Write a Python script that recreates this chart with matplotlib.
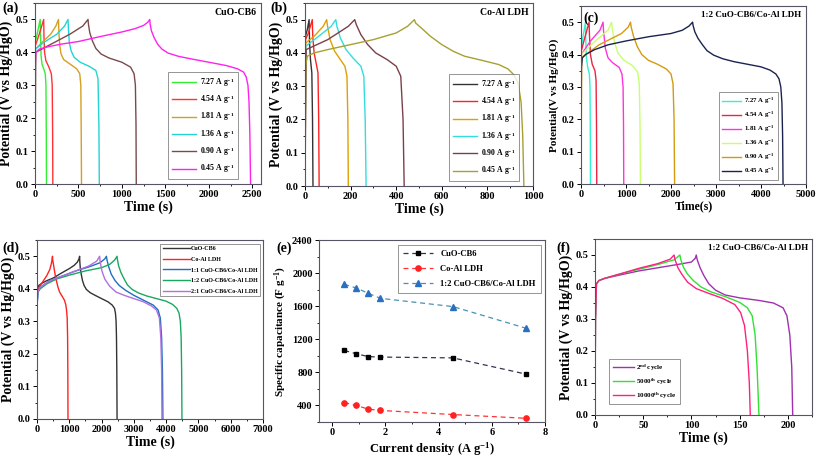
import matplotlib
import numpy as np

matplotlib.use("Agg")
import matplotlib.pyplot as plt
from matplotlib.ticker import AutoMinorLocator, MultipleLocator

plt.rcParams["font.family"] = ["Liberation Serif", "DejaVu Serif"]
plt.rcParams["font.weight"] = "bold"
plt.rcParams["mathtext.fontset"] = "custom"
plt.rcParams["mathtext.rm"] = "Liberation Serif:bold"
plt.rcParams["mathtext.it"] = "Liberation Serif:bold"
plt.rcParams["mathtext.bf"] = "Liberation Serif:bold"

# ---- (a) CuO-CB6 GCD curves: (time s, potential V)
a_727_t = [0, 2, 20, 40, 60, 63, 70, 80, 100, 118, 126, 130, 132]
a_727_v = [0, 0.43, 0.45, 0.475, 0.50, 0.45, 0.39, 0.365, 0.35, 0.335, 0.30, 0.15, 0]
a_454_t = [0, 3, 30, 60, 100, 103, 110, 125, 160, 188, 198, 203, 205]
a_454_v = [0, 0.42, 0.44, 0.465, 0.50, 0.45, 0.40, 0.375, 0.355, 0.335, 0.30, 0.15, 0]
a_181_t = [0, 5, 80, 180, 240, 270, 275, 285, 300, 330, 400, 480, 515, 527, 532, 535]
a_181_v = [0, 0.41, 0.43, 0.455, 0.48, 0.50, 0.46, 0.42, 0.395, 0.378, 0.365, 0.35,
           0.335, 0.30, 0.15, 0]
a_136_t = [0, 5, 100, 250, 340, 380, 385, 395, 415, 450, 520, 620, 700, 725, 735, 740]
a_136_v = [0, 0.41, 0.43, 0.455, 0.48, 0.50, 0.47, 0.43, 0.405, 0.385, 0.37, 0.358,
           0.345, 0.32, 0.18, 0]
a_090_t = [0, 8, 150, 400, 550, 610, 615, 630, 660, 700, 760, 850, 1000, 1100, 1140,
           1155, 1162, 1165]
a_090_v = [0, 0.40, 0.42, 0.455, 0.48, 0.50, 0.485, 0.46, 0.435, 0.412, 0.395, 0.383,
           0.37, 0.355, 0.335, 0.30, 0.18, 0]
a_045_t = [0, 3, 10, 50, 150, 300, 500, 750, 1000, 1150, 1250, 1300, 1320, 1325,
           1340, 1370, 1410, 1460, 1530, 1650, 1800, 2000, 2200, 2330, 2400, 2430,
           2450, 2462, 2472, 2480]
a_045_v = [0, 0.36, 0.40, 0.41, 0.417, 0.425, 0.433, 0.448, 0.462, 0.472, 0.482,
           0.492, 0.50, 0.485, 0.465, 0.445, 0.425, 0.41, 0.398, 0.388, 0.38, 0.37,
           0.36, 0.35, 0.34, 0.325, 0.30, 0.25, 0.15, 0]

# ---- (b) Co-Al LDH
b_727_t = [0, 2, 10, 18, 20, 24, 30, 33, 35]
b_727_v = [0, 0.45, 0.47, 0.50, 0.43, 0.38, 0.34, 0.2, 0]
b_454_t = [0, 2, 15, 32, 34, 40, 50, 57, 60, 62]
b_454_v = [0, 0.44, 0.46, 0.50, 0.45, 0.40, 0.365, 0.34, 0.2, 0]
b_181_t = [0, 3, 40, 80, 95, 99, 110, 130, 150, 175, 184, 188, 190]
b_181_v = [0, 0.43, 0.45, 0.48, 0.50, 0.48, 0.44, 0.405, 0.385, 0.36, 0.33, 0.2, 0]
b_136_t = [0, 3, 60, 115, 135, 140, 155, 180, 210, 245, 258, 264, 268]
b_136_v = [0, 0.42, 0.45, 0.48, 0.50, 0.48, 0.445, 0.41, 0.385, 0.36, 0.33, 0.2, 0]
b_090_t = [0, 5, 100, 190, 218, 225, 245, 275, 310, 360, 400, 420, 430, 435]
b_090_v = [0, 0.41, 0.44, 0.48, 0.50, 0.485, 0.455, 0.425, 0.40, 0.38, 0.36, 0.33,
           0.2, 0]
b_045_t = [0, 3, 10, 40, 100, 200, 300, 400, 450, 480, 485, 510, 550, 600, 650, 700,
           780, 850, 890, 915, 935, 948, 955, 960]
b_045_v = [0, 0.36, 0.39, 0.40, 0.41, 0.425, 0.44, 0.46, 0.48, 0.50, 0.49, 0.475,
           0.45, 0.425, 0.405, 0.39, 0.377, 0.365, 0.352, 0.335, 0.31, 0.25, 0.15, 0]

# ---- (c) 1:2 CuO-CB6/Co-Al LDH
c_727_t = [0, 5, 50, 100, 105, 120, 150, 185, 200, 207, 210]
c_727_v = [0, 0.42, 0.46, 0.50, 0.45, 0.39, 0.36, 0.34, 0.30, 0.15, 0]
c_454_t = [0, 5, 80, 180, 188, 210, 250, 310, 335, 345, 350]
c_454_v = [0, 0.41, 0.45, 0.50, 0.46, 0.40, 0.37, 0.35, 0.32, 0.18, 0]
c_181_t = [0, 10, 200, 420, 490, 500, 540, 600, 700, 850, 910, 935, 945, 950]
c_181_v = [0, 0.40, 0.44, 0.475, 0.50, 0.475, 0.42, 0.39, 0.375, 0.36, 0.34, 0.30,
           0.18, 0]
c_136_t = [0, 10, 300, 600, 680, 695, 740, 820, 950, 1150, 1260, 1295, 1312, 1320]
c_136_v = [0, 0.40, 0.44, 0.475, 0.50, 0.48, 0.44, 0.405, 0.383, 0.365, 0.345, 0.31,
           0.18, 0]
c_090_t = [0, 15, 400, 900, 1050, 1100, 1115, 1170, 1250, 1350, 1500, 1700, 1900,
           2000, 2045, 2068, 2080]
c_090_v = [0, 0.39, 0.43, 0.465, 0.485, 0.50, 0.485, 0.455, 0.425, 0.40, 0.382, 0.37,
           0.355, 0.34, 0.31, 0.2, 0]
c_045_t = [0, 8, 30, 100, 300, 600, 1000, 1500, 2000, 2250, 2400, 2480, 2490, 2530,
           2600, 2700, 2800, 2950, 3150, 3400, 3700, 4000, 4200, 4330, 4400, 4440,
           4465, 4480, 4490]
c_045_v = [0, 0.36, 0.39, 0.40, 0.415, 0.43, 0.442, 0.455, 0.465, 0.475, 0.488,
           0.50, 0.49, 0.47, 0.45, 0.43, 0.412, 0.398, 0.387, 0.378, 0.37, 0.362,
           0.352, 0.34, 0.325, 0.30, 0.25, 0.15, 0]

# ---- (d) comparison at 0.45 A/g (extra ratios)
d_11_t = [0, 8, 30, 100, 400, 800, 1200, 1600, 1950, 2100, 2150, 2165, 2220, 2300,
          2420, 2550, 2750, 3000, 3300, 3600, 3750, 3820, 3860, 3885, 3900]
d_11_v = [0, 0.36, 0.39, 0.405, 0.425, 0.44, 0.455, 0.467, 0.48, 0.492, 0.50, 0.49,
          0.468, 0.445, 0.425, 0.41, 0.395, 0.38, 0.365, 0.35, 0.335, 0.31, 0.25,
          0.15, 0]
d_21_t = [0, 8, 30, 100, 400, 800, 1200, 1600, 1850, 1940, 1955, 2010, 2100, 2250,
          2450, 2700, 3000, 3300, 3550, 3700, 3790, 3835, 3860, 3870]
d_21_v = [0, 0.36, 0.39, 0.405, 0.425, 0.44, 0.455, 0.47, 0.485, 0.50, 0.485, 0.455,
          0.43, 0.408, 0.39, 0.38, 0.37, 0.36, 0.347, 0.335, 0.31, 0.25, 0.15, 0]

# ---- (e) specific capacitance vs current density
current_density = [0.45, 0.90, 1.36, 1.81, 4.54, 7.27]
cap_cuo = [1065, 1025, 990, 985, 975, 780]
cap_coal = [435, 400, 355, 340, 290, 245]
cap_12 = [1865, 1820, 1755, 1695, 1595, 1335]

# ---- (f) cycling
f_2_t = [0, 0.5, 1.5, 4, 10, 25, 45, 65, 85, 100, 104, 105, 106, 109, 113, 118, 125,
         135, 150, 170, 185, 195, 199, 202, 204, 205]
f_2_v = [0, 0.30, 0.41, 0.42, 0.427, 0.437, 0.45, 0.46, 0.47, 0.478, 0.49, 0.50,
         0.485, 0.46, 0.435, 0.41, 0.39, 0.375, 0.366, 0.358, 0.35, 0.335, 0.31, 0.25,
         0.15, 0]
f_5000_t = [0, 0.5, 1.5, 4, 10, 25, 45, 65, 82, 88, 89, 92, 96, 102, 110, 120, 135,
            150, 158, 163, 166, 168, 170]
f_5000_v = [0, 0.30, 0.41, 0.42, 0.427, 0.44, 0.455, 0.47, 0.485, 0.50, 0.485, 0.46,
            0.44, 0.42, 0.40, 0.385, 0.37, 0.352, 0.335, 0.31, 0.25, 0.15, 0]
f_10000_t = [0, 0.5, 1.5, 4, 10, 25, 45, 65, 78, 82, 83, 86, 90, 96, 105, 118, 132,
             145, 151, 155, 158, 160, 161]
f_10000_v = [0, 0.30, 0.41, 0.42, 0.427, 0.44, 0.458, 0.473, 0.487, 0.50, 0.485,
             0.46, 0.44, 0.415, 0.395, 0.38, 0.365, 0.345, 0.32, 0.28, 0.2, 0.1, 0]

rate_labels = ["7.27 A g$^{-1}$", "4.54 A g$^{-1}$", "1.81 A g$^{-1}$",
               "1.36 A g$^{-1}$", "0.90 A g$^{-1}$", "0.45 A g$^{-1}$"]

W, H = 817, 457
fig = plt.figure(figsize=(W / 100, H / 100), dpi=100)


def px_axes(x0, y0, x1, y1):
    return fig.add_axes([x0 / W, 1 - y1 / H, (x1 - x0) / W, (y1 - y0) / H])


def style(ax, xlim, xstep, ylim=(0, 0.55), ystep=0.1):
    ax.set_xlim(*xlim)
    ax.set_ylim(*ylim)
    ax.xaxis.set_major_locator(MultipleLocator(xstep))
    ax.yaxis.set_major_locator(MultipleLocator(ystep))
    ax.xaxis.set_minor_locator(AutoMinorLocator(2))
    ax.yaxis.set_minor_locator(AutoMinorLocator(2))
    ax.tick_params(which="major", direction="out", length=3, width=0.7, labelsize=7.5, pad=1.5)
    ax.tick_params(which="minor", direction="out", length=1.5, width=0.6)
    for s in ax.spines.values():
        s.set_color("#555566")
        s.set_linewidth(0.8)
    for lab in ax.get_xticklabels() + ax.get_yticklabels():
        lab.set_fontweight("bold")


def legend(ax, fs=5.6, hl=3.2, **kw):
    leg = ax.legend(fontsize=fs, frameon=True, fancybox=False, handlelength=hl,
                    handletextpad=0.4, labelspacing=0.55, borderpad=0.5, **kw)
    leg.get_frame().set_edgecolor("#666666")
    leg.get_frame().set_linewidth(0.6)
    return leg


lw = 1.0
LAB = dict(fontsize=10, fontweight="bold")

# (a)
ax = px_axes(35, 3, 261, 184)
for t, v, c, l in zip([a_727_t, a_454_t, a_181_t, a_136_t, a_090_t, a_045_t],
                      [a_727_v, a_454_v, a_181_v, a_136_v, a_090_v, a_045_v],
                      ["#33ee33", "#ff3333", "#d4a020", "#22d4d4", "#7a4a4a", "#ff22ee"],
                      rate_labels):
    ax.plot(t, v, color=c, lw=lw, label=l)
style(ax, (0, 2600), 500)
ax.set_xlabel("Time (s)", labelpad=1, **LAB)
ax.set_ylabel("Potential (V vs Hg/HgO)", labelpad=2, **LAB)
ax.text(0.98, 0.97, "CuO-CB6", transform=ax.transAxes, ha="right", va="top", fontsize=7)
legend(ax, loc="lower right", bbox_to_anchor=(0.915, 0.005))

# (b)
ax = px_axes(305, 3, 533, 186)
for t, v, c, l in zip([b_727_t, b_454_t, b_181_t, b_136_t, b_090_t, b_045_t],
                      [b_727_v, b_454_v, b_181_v, b_136_v, b_090_v, b_045_v],
                      ["#333333", "#ff2222", "#e0a000", "#33dddd", "#7a4048", "#a8a030"],
                      rate_labels):
    ax.plot(t, v, color=c, lw=lw, label=l)
style(ax, (0, 1000), 200)
ax.set_xlabel("Time (s)", labelpad=1, **LAB)
ax.set_ylabel("Potential (V vs Hg/HgO)", labelpad=2, **LAB)
ax.text(0.98, 0.97, "Co-Al LDH", transform=ax.transAxes, ha="right", va="top", fontsize=7)
legend(ax, loc="lower right", bbox_to_anchor=(0.955, 0.005))

# (c)
ax = px_axes(581, 6, 806, 184)
for t, v, c, l in zip([c_727_t, c_454_t, c_181_t, c_136_t, c_090_t, c_045_t],
                      [c_727_v, c_454_v, c_181_v, c_136_v, c_090_v, c_045_v],
                      ["#33f0d0", "#ee2244", "#ff33dd", "#c8ff70", "#d49a10", "#1a2350"],
                      rate_labels):
    ax.plot(t, v, color=c, lw=lw, label=l)
style(ax, (0, 5000), 1000)
ax.set_xlabel("Time(s)", fontsize=8.5, fontweight="bold", labelpad=1)
ax.set_ylabel("Potential(V vs Hg/HgO)", fontsize=8, fontweight="bold", labelpad=2)
ax.text(0.98, 0.97, "1:2 CuO-CB6/Co-Al LDH", transform=ax.transAxes, ha="right", va="top",
        fontsize=6.5)
legend(ax, fs=4.9, hl=2.8, loc="lower right", bbox_to_anchor=(0.89, 0.005))

# (d)
ax = px_axes(37, 240, 263, 419)
for t, v, c, l in zip([a_045_t, b_045_t, d_11_t, c_045_t, d_21_t],
                      [a_045_v, b_045_v, d_11_v, c_045_v, d_21_v],
                      ["#333333", "#ff2222", "#1f6fc0", "#1aa860", "#b070e0"],
                      ["CuO-CB6", "Co-Al LDH", "1:1 CuO-CB6/Co-Al LDH",
                       "1:2 CuO-CB6/Co-Al LDH", "2:1 CuO-CB6/Co-Al LDH"]):
    ax.plot(t, v, color=c, lw=lw, label=l)
style(ax, (0, 7000), 1000)
ax.set_xlabel("Time (s)", labelpad=1, **LAB)
ax.set_ylabel("Potential (V vs Hg/HgO)", labelpad=2, **LAB)
leg = ax.legend(fontsize=4.3, frameon=True, fancybox=False, handlelength=4.5,
                handletextpad=0.2, labelspacing=0.9, borderpad=0.4,
                loc="upper right", bbox_to_anchor=(1.0, 0.995))
leg.get_frame().set_edgecolor("#666666")
leg.get_frame().set_linewidth(0.6)

# (e)
ax = px_axes(319, 240, 545, 422)
ax.plot(current_density, cap_cuo, ls="--", color="#333355", lw=0.9, marker="s", ms=3.5,
        mfc="black", mec="black", dashes=(4, 3), label="CuO-CB6")
ax.plot(current_density, cap_coal, ls="--", color="#ff3333", lw=0.9, marker="o", ms=3.8,
        mfc="#ff2222", mec="#ff2222", dashes=(4, 3), label="Co-Al LDH")
ax.plot(current_density, cap_12, ls="--", color="#4a90b0", lw=0.9, marker="^", ms=3.8,
        mfc="#2a6fc0", mec="#2a6fc0", dashes=(4, 3), label="1:2 CuO-CB6/Co-Al LDH")
style(ax, (-0.5, 8), 2, ylim=(200, 2400), ystep=400)
ax.set_xlabel("Current density (A g$^{-1}$)", fontsize=9, fontweight="bold", labelpad=2)
ax.set_ylabel("Specific capacitance (F g$^{-1}$)", fontsize=8, fontweight="bold", labelpad=2)
leg = ax.legend(fontsize=6.2, frameon=True, fancybox=False, handlelength=3.5,
                handletextpad=0.8, labelspacing=0.8, borderpad=0.6,
                loc="upper right", bbox_to_anchor=(1.0, 0.995))
leg.get_frame().set_edgecolor("#666666")
leg.get_frame().set_linewidth(0.6)

# (f)
ax = px_axes(595, 239, 812, 415)
for t, v, c, l in zip([f_2_t, f_5000_t, f_10000_t], [f_2_v, f_5000_v, f_10000_v],
                      ["#a030b0", "#33e033", "#ff2080"],
                      ["2$^{nd}$ cycle", "5000$^{th}$ cycle", "10000$^{th}$ cycle"]):
    ax.plot(t, v, color=c, lw=lw, label=l)
style(ax, (0, 225), 50)
ax.set_xlabel("Time (s)", labelpad=1, **LAB)
ax.set_ylabel("Potential (V vs Hg/HgO)", labelpad=2, **LAB)
ax.text(0.98, 0.97, "1:2 CuO-CB6/Co-Al LDH", transform=ax.transAxes, ha="right", va="top",
        fontsize=6.5)
legend(ax, fs=5.0, hl=3.0, loc="lower left", bbox_to_anchor=(0.05, 0.04))

# panel letters
for s, x, y in [("(a)", 2, 12), ("(b)", 270, 12), ("(c)", 583, 22),
                ("(d)", 2, 252), ("(e)", 276, 252), ("(f)", 556, 252)]:
    fig.text(x / W, 1 - y / H, s, fontsize=10, fontweight="bold", ha="left", va="baseline")

fig.savefig("out.png", dpi=100)
